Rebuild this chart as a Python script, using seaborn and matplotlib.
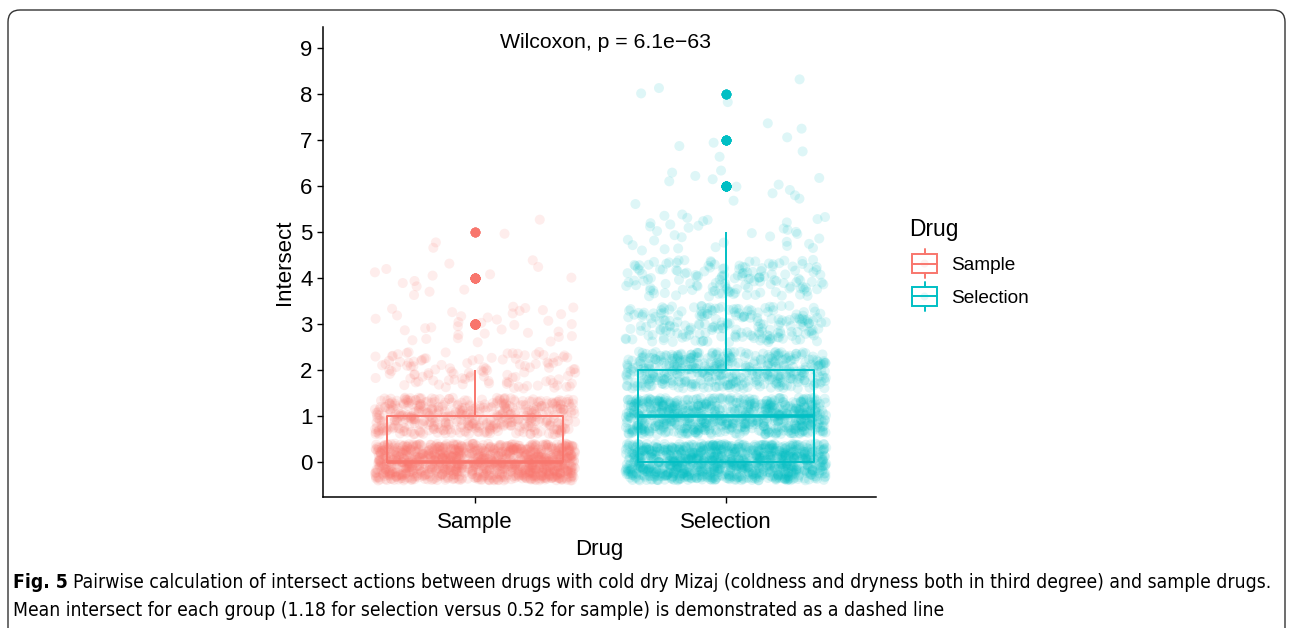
import numpy as np
import pandas as pd
import matplotlib
matplotlib.use("Agg")
import matplotlib.pyplot as plt
import seaborn as sns
from matplotlib.patches import Rectangle, Circle, FancyBboxPatch
from matplotlib.lines import Line2D
from matplotlib.legend_handler import HandlerBase
from matplotlib.transforms import IdentityTransform

# number of drug pairs at each intersect value
groups = ["Sample", "Selection"]
sample_values = [0, 1, 2, 3, 4, 5]
sample_counts = [1100, 450, 110, 35, 14, 4]
selection_values = [0, 1, 2, 3, 4, 5, 6, 7, 8]
selection_counts = [1000, 700, 420, 200, 140, 35, 14, 7, 4]
colors = {"Sample": "#F8766D", "Selection": "#00BFC4"}
p_label = "Wilcoxon, p = 6.1e\u221263"
cap_bold = "Fig. 5"
cap_line1 = ("Pairwise calculation of intersect actions between drugs with cold dry Mizaj "
             "(coldness and dryness both in third degree) and sample drugs.")
cap_line2 = ("Mean intersect for each group (1.18 for selection versus 0.52 for sample) "
             "is demonstrated as a dashed line")

df = pd.concat([
    pd.DataFrame({"Drug": "Sample",
                  "Intersect": np.repeat(sample_values, sample_counts)}),
    pd.DataFrame({"Drug": "Selection",
                  "Intersect": np.repeat(selection_values, selection_counts)}),
], ignore_index=True)

# vertical jitter like geom_jitter (height 0.4), spread evenly
idx = np.arange(len(df))
df["y_jit"] = df["Intersect"] + ((idx * 0.6180339887) % 1 - 0.5) * 0.8

sns.set_theme(style="ticks")
plt.rcParams["font.family"] = ["Liberation Sans", "DejaVu Sans"]
plt.rcParams["text.color"] = "black"
plt.rcParams["axes.labelcolor"] = "black"

fig = plt.figure(figsize=(12.93, 6.28), dpi=100)
ax = fig.add_axes([0.2498, 0.2086, 0.428, 0.7484])

sns.stripplot(data=df, x="Drug", y="y_jit", hue="Drug", palette=colors,
              order=groups, jitter=0.4, size=7.2, alpha=0.13, linewidth=0,
              legend=False, ax=ax, zorder=1)
sns.boxplot(data=df, x="Drug", y="Intersect", hue="Drug", palette=colors,
            order=groups, fill=False, width=0.7, linewidth=1.4,
            capprops=dict(linewidth=0), medianprops=dict(linewidth=2.6),
            flierprops=dict(marker="o", markersize=6), legend=False,
            ax=ax, zorder=3)

# solid coloured outliers
for ln in ax.lines:
    if ln.get_marker() == "o":
        xs = np.asarray(ln.get_xdata(), dtype=float)
        if len(xs):
            c = colors[groups[int(round(xs.mean()))]]
            ln.set_markerfacecolor(c)
            ln.set_markeredgecolor(c)

ax.set_xlim(-0.606, 1.6)
ax.set_ylim(-0.76, 9.46)
ax.set_yticks(range(10))
ax.set_xlabel("Drug", fontsize=16, labelpad=4)
ax.set_ylabel("Intersect", fontsize=16)
ax.tick_params(labelsize=16, length=4, width=1, colors="black")
ax.tick_params(axis="x", pad=7)
for s in ["left", "bottom"]:
    ax.spines[s].set_linewidth(1.1)
    ax.spines[s].set_color("black")
sns.despine(ax=ax)
ax.text(0.52, 9.13, p_label, fontsize=15.3, ha="center", va="center")


class BoxHandler(HandlerBase):
    def create_artists(self, legend, orig_handle, xdescent, ydescent,
                       width, height, fontsize, trans):
        c = orig_handle.get_color()
        w = 0.8 * width
        x0 = (width - w) / 2 - xdescent
        h = 1.0 * height
        y0 = (height - h) / 2 - ydescent
        arts = [
            Circle((x0 + w / 2, y0 + h / 2), h * 0.22, color=c, alpha=0.1, lw=0),
            Rectangle((x0, y0), w, h, fill=False, edgecolor=c, lw=1.4),
            Line2D([x0, x0 + w], [y0 + h / 2] * 2, color=c, lw=1.4),
            Line2D([x0 + w / 2] * 2, [y0 + h, y0 + h + 0.3 * height], color=c, lw=1.4),
            Line2D([x0 + w / 2] * 2, [y0, y0 - 0.3 * height], color=c, lw=1.4),
        ]
        for a in arts:
            a.set_transform(trans)
        return arts


handles = [Line2D([], [], color=colors[g]) for g in groups]
leg = fig.legend(handles, groups, title="Drug", loc="upper left",
                 bbox_to_anchor=(0.690, 0.680), frameon=False, fontsize=13.7,
                 title_fontsize=16.4, handler_map={Line2D: BoxHandler()},
                 handlelength=1.6, handleheight=1.1, labelspacing=0.7,
                 handletextpad=0.6)
leg._legend_box.align = "left"

# caption and border as in the article figure
frame = FancyBboxPatch((8, -20), 1277, 638, boxstyle="round,pad=0,rounding_size=12",
                       transform=IdentityTransform(), fill=False,
                       edgecolor="#333333", lw=1.0)
fig.patches.append(frame)

cap_font = ["DejaVu Sans"]
y1 = 1 - 583 / 628
y2 = 1 - 610 / 628
t0 = fig.text(13 / 1293, y1, cap_bold, fontsize=13, fontweight="bold",
              va="center", family=cap_font, fontstretch="condensed")
t1 = fig.text(0, y1, cap_line1, fontsize=13, va="center", family=cap_font,
              fontstretch="condensed")
t2 = fig.text(13 / 1293, y2, cap_line2, fontsize=13, va="center", family=cap_font,
              fontstretch="condensed")

# fit the first caption line into the frame width
r = fig.canvas.get_renderer()
gap = 5
total = t0.get_window_extent(r).width + gap + t1.get_window_extent(r).width
size = 13 * (1272 - 13) / total
for t in (t0, t1, t2):
    t.set_fontsize(size)
w0 = t0.get_window_extent(r).width
t1.set_x((13 + w0 + gap * size / 13) / 1293)

fig.savefig("out.png", dpi=100)
